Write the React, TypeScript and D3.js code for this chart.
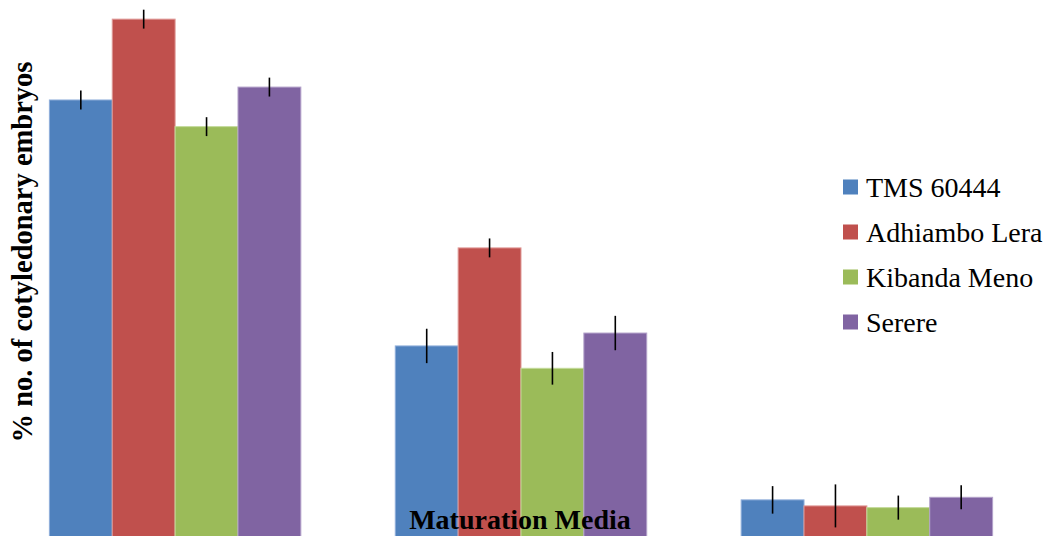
import * as d3 from "d3";
import React from "react";

const media = ["Medium 1", "Medium 2", "Medium 3"];
const cultivars = ["TMS 60444", "Adhiambo Lera", "Kibanda Meno", "Serere"];
const colors = ["#4F81BD", "#C0504D", "#9BBB59", "#8064A2"];
const strokes = ["#8FAEDA", "#E09A98", "#C4DA9A", "#B3A2CA"];

// % cotyledonary embryos per medium, one array per cultivar
const tms60444 = [50.7, 22.1, 4.2];
const adhiamboLera = [60.1, 33.5, 3.5];
const kibandaMeno = [47.6, 19.5, 3.3];
const serere = [52.2, 23.6, 4.5];

const tmsErr = [1.1, 2.0, 1.6];
const adhiamboErr = [1.1, 1.1, 2.5];
const kibandaErr = [1.1, 1.9, 1.4];
const serereErr = [1.1, 2.0, 1.4];

const values = [tms60444, adhiamboLera, kibandaMeno, serere];
const errors = [tmsErr, adhiamboErr, kibandaErr, serereErr];

const W = 1046;
const H = 536;
const FONT = "'Times New Roman', 'Liberation Serif', 'DejaVu Serif', serif";

export default function App() {
  const ref = React.useRef<SVGSVGElement>(null);

  React.useEffect(() => {
    if (!ref.current) return;
    const svg = d3.select(ref.current);
    svg.selectAll("*").remove();

    const x0 = d3.scaleBand<string>().domain(media).range([2, 1040]).paddingInner(0.273).paddingOuter(0.137);
    const x1 = d3.scaleBand<string>().domain(cultivars).range([0, x0.bandwidth()]);
    const y = d3.scaleLinear().domain([0, 62]).range([H, H - 62 * 8.6]);

    const rows = media.flatMap((m, i) =>
      cultivars.map((c, j) => ({ m, c, j, v: values[j][i], e: errors[j][i] }))
    );

    const g = svg.append("g");
    g.selectAll("rect.bar")
      .data(rows)
      .enter()
      .append("rect")
      .attr("class", "bar")
      .attr("x", (d) => (x0(d.m) ?? 0) + (x1(d.c) ?? 0))
      .attr("y", (d) => y(d.v))
      .attr("width", x1.bandwidth())
      .attr("height", (d) => H - y(d.v) + 2)
      .attr("fill", (d) => colors[d.j])
      .attr("stroke", (d) => strokes[d.j])
      .attr("stroke-width", 1);

    g.selectAll("line.err")
      .data(rows)
      .enter()
      .append("line")
      .attr("class", "err")
      .attr("x1", (d) => (x0(d.m) ?? 0) + (x1(d.c) ?? 0) + x1.bandwidth() / 2)
      .attr("x2", (d) => (x0(d.m) ?? 0) + (x1(d.c) ?? 0) + x1.bandwidth() / 2)
      .attr("y1", (d) => y(d.v + d.e))
      .attr("y2", (d) => y(d.v - d.e))
      .attr("stroke", "#000")
      .attr("stroke-width", 1.6);

    svg
      .append("text")
      .attr("transform", `translate(32,252) rotate(-90)`)
      .attr("text-anchor", "middle")
      .style("font-family", FONT)
      .attr("font-weight", "bold")
      .attr("font-size", 28.5)
      .text("% no. of cotyledonary embryos");

    svg
      .append("text")
      .attr("x", 520)
      .attr("y", 529)
      .attr("text-anchor", "middle")
      .style("font-family", FONT)
      .attr("font-weight", "bold")
      .attr("font-size", 28)
      .text("Maturation Media");

    const legend = svg.append("g").attr("transform", "translate(843,187)");
    const item = legend
      .selectAll("g")
      .data(cultivars)
      .enter()
      .append("g")
      .attr("transform", (_, i) => `translate(0,${i * 45})`);
    item
      .append("rect")
      .attr("x", 0)
      .attr("y", -7.5)
      .attr("width", 15)
      .attr("height", 15)
      .attr("fill", (_, i) => colors[i]);
    item
      .append("text")
      .attr("x", 23)
      .attr("y", 10)
      .style("font-family", FONT)
      .attr("font-size", 28)
      .text((d) => d);
  }, []);

  return (
    <svg
      ref={ref}
      width={W}
      height={H}
      style={{ position: "absolute", left: 0, top: 0, background: "#fff" }}
    />
  );
}
